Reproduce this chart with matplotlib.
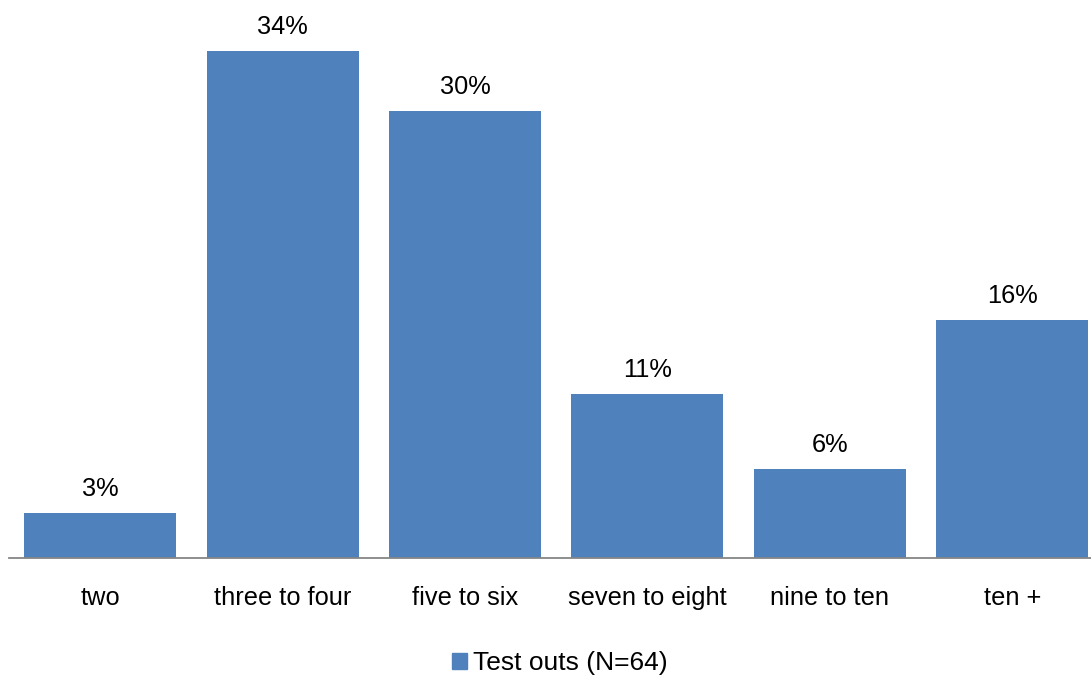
import matplotlib.pyplot as plt
from matplotlib.patches import Patch

categorias = ['two', 'three to four', 'five to six', 'seven to eight', 'nine to ten', 'ten +']
valores = [3, 34, 30, 11, 6, 16]
etiquetas = ['3%', '34%', '30%', '11%', '6%', '16%']
serie = 'Test outs (N=64)'

color_barra = '#4F81BD'
plt.rcParams['font.family'] = ['Liberation Sans', 'DejaVu Sans']

W, H = 1091, 675
fig = plt.figure(figsize=(W / 100, H / 100), dpi=100)

# ejes en pixeles: inicio x=9, ancho 6 ranuras de 182.4 px, base en y=558
px_por_pct = 14.9
y_max = 36
left, slot = 9, 182.4
base = 558
ax = fig.add_axes([left / W, (H - base) / H, 6 * slot / W, y_max * px_por_pct / H])

x = range(len(categorias))
bars = ax.bar(x, valores, width=152 / slot, color=color_barra)
ax.set_xlim(-0.5, len(categorias) - 0.5)
ax.set_ylim(0, y_max)

for b, txt in zip(bars, etiquetas):
    ax.annotate(txt, (b.get_x() + b.get_width() / 2, b.get_height()),
                xytext=(0, 12.2), textcoords='offset points',
                ha='center', va='baseline', fontsize=18.3)

ax.set_xticks(list(x))
ax.set_xticklabels(categorias, fontsize=18.3)
ax.tick_params(axis='x', length=0, pad=20.5)
ax.set_yticks([])
for s in ['top', 'right', 'left']:
    ax.spines[s].set_visible(False)
ax.spines['bottom'].set_color('#868686')
ax.spines['bottom'].set_linewidth(1.3)

fig.legend(handles=[Patch(color=color_barra, label=serie)],
           loc='center', bbox_to_anchor=(560 / W, (H - 663) / H),
           frameon=False, fontsize=19, handlelength=0.55, handleheight=0.55,
           handletextpad=0.25)

fig.savefig('out.png', dpi=100)
